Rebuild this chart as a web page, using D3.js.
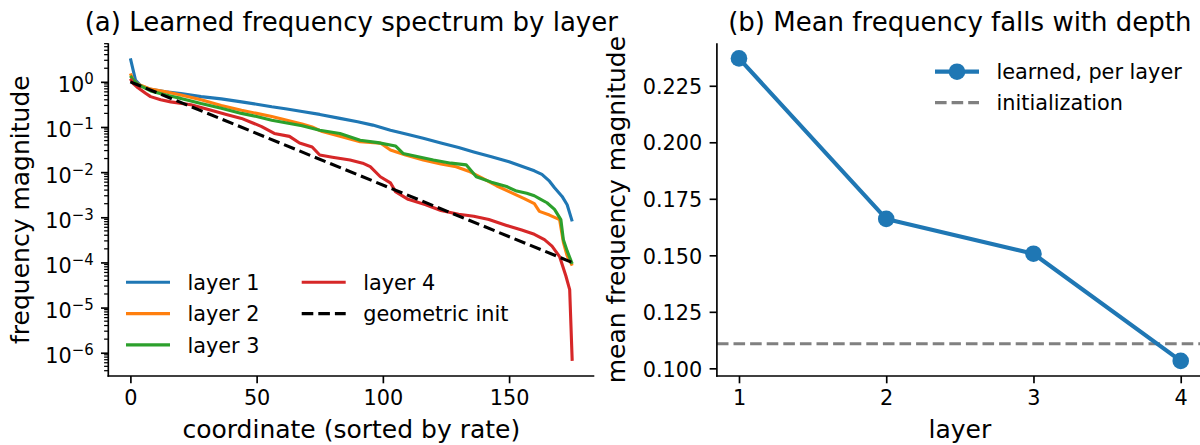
<!DOCTYPE html>
<html>
<head>
<meta charset="utf-8">
<script src="https://cdn.jsdelivr.net/npm/d3@7"></script>
<style>
  body { margin: 0; background: #fff; }
  svg { font-family: "DejaVu Sans", sans-serif; }
</style>
</head>
<body>
<div id="chart"></div>
<script>
// values
const layer1X = [0, 2, 4, 8, 14, 20, 28, 36, 44, 50, 56, 62, 68, 75, 83, 90, 96, 103, 110, 116, 123, 130, 136, 143, 150, 155, 160, 163, 166, 168, 171, 173, 175];
const layer1Y = [3.3, 1.10, 0.83, 0.68, 0.60, 0.55, 0.47, 0.42, 0.36, 0.32, 0.28, 0.25, 0.22, 0.19, 0.155, 0.13, 0.11, 0.085, 0.068, 0.056, 0.044, 0.035, 0.028, 0.022, 0.017, 0.0135, 0.0107, 0.0089, 0.0063, 0.0045, 0.0029, 0.0019, 0.00081];

const layer2X = [0, 1, 3, 8, 14, 20, 28, 36, 44, 50, 56, 62, 68, 72, 76, 83, 91, 99, 103, 109, 116, 123, 129, 134, 139, 145, 150, 156, 160, 162, 166, 170, 171.5, 173, 175];
const layer2Y = [1.53, 1.12, 0.89, 0.69, 0.60, 0.51, 0.40, 0.30, 0.234, 0.20, 0.17, 0.141, 0.117, 0.10, 0.079, 0.062, 0.047, 0.044, 0.031, 0.024, 0.0186, 0.0151, 0.0132, 0.0105, 0.0076, 0.0050, 0.0037, 0.0026, 0.0020, 0.00135, 0.00112, 0.00089, 0.00028, 0.00014, 8.5e-5];

const layer3X = [0, 1, 3, 8, 14, 20, 28, 36, 44, 50, 56, 62, 68, 75, 83, 91, 98, 105, 108, 114, 120, 127, 133, 137, 143, 149, 153, 157, 160, 162, 165, 168, 170.5, 171.5, 173, 175];
const layer3Y = [1.35, 1.12, 0.87, 0.63, 0.51, 0.43, 0.33, 0.26, 0.20, 0.17, 0.141, 0.123, 0.107, 0.085, 0.072, 0.051, 0.045, 0.038, 0.026, 0.022, 0.0186, 0.0158, 0.0145, 0.0079, 0.0060, 0.0048, 0.0038, 0.0034, 0.0030, 0.0026, 0.0021, 0.0015, 0.00089, 0.00032, 0.00018, 9.3e-5];

const layer4X = [0, 1, 3, 6, 8, 12, 16, 24, 32, 38, 44, 48, 52, 57, 63, 67, 72, 75, 80, 87, 92, 95, 99, 103, 105, 110, 117, 123, 130, 136, 142, 149, 155, 160, 164, 167, 170, 172.5, 174, 175];
const layer4Y = [1.17, 0.93, 0.74, 0.56, 0.47, 0.40, 0.36, 0.31, 0.234, 0.19, 0.155, 0.126, 0.102, 0.072, 0.062, 0.044, 0.036, 0.024, 0.0214, 0.0186, 0.0158, 0.0132, 0.0079, 0.0058, 0.0037, 0.0025, 0.0019, 0.00141, 0.00117, 0.00105, 0.00089, 0.00066, 0.00052, 0.00042, 0.00032, 0.00023, 0.000135, 5.0e-5, 2.5e-5, 6.6e-7];

const geoX = [0, 175];
const geoY = [1, 1e-4];

const layerNames = ["layer 1", "layer 2", "layer 3", "layer 4"];
const layerColors = ["#1f77b4", "#ff7f0e", "#2ca02c", "#d62728"];

const layerIdx = [1, 2, 3, 4];
const meanFreq = [0.2371, 0.1661, 0.1507, 0.1033];
const initFreq = 0.1109;

const xTicksA = [0, 50, 100, 150];
const yExpA = [0, -1, -2, -3, -4, -5, -6];
const xTicksB = [1, 2, 3, 4];
const yTicksB = [0.100, 0.125, 0.150, 0.175, 0.200, 0.225];

const W = 1200, H = 445;
const svg = d3.select("#chart").append("svg")
    .attr("width", W).attr("height", H);

const FS = 20.8;       // 10pt at 150 dpi
const FL = 25;         // 12pt at 150 dpi
const FT = 26;         // titles
const majorLen = 7.3, minorLen = 4.2, tickPad = 7.3;

function styleAxis(g) {
    g.select(".domain").remove();
    g.selectAll(".tick line").attr("stroke", "#000").attr("stroke-width", 1.67);
    g.selectAll(".tick text").attr("fill", "#000").attr("font-size", FS)
        .attr("font-family", "DejaVu Sans");
}

// ---------------- panel (a) ----------------
const series = [
    {x: layer1X, y: layer1Y},
    {x: layer2X, y: layer2Y},
    {x: layer3X, y: layer3Y},
    {x: layer4X, y: layer4Y}
];
const allY = [].concat(layer1Y, layer2Y, layer3Y, layer4Y);
const logMin = Math.log10(d3.min(allY)), logMax = Math.log10(d3.max(allY));
const logPad = (logMax - logMin) * 0.05;

const a = {left: 108.3, right: 594.3, top: 43.3, bottom: 376};
const xA = d3.scaleLinear().domain([-8.75, 183.75]).range([a.left, a.right]);
const yA = d3.scaleLog().domain([Math.pow(10, logMin - logPad), Math.pow(10, logMax + logPad)])
    .range([a.bottom, a.top]);

// minor ticks on the log axis
const minorA = [];
for (let k = -7; k <= 0; k++) {
    for (let m = 2; m <= 9; m++) {
        const v = m * Math.pow(10, k);
        if (v >= yA.domain()[0] && v <= yA.domain()[1]) minorA.push(v);
    }
}
svg.append("g").selectAll("line").data(minorA).enter().append("line")
    .attr("x1", a.left - minorLen).attr("x2", a.left)
    .attr("y1", d => yA(d)).attr("y2", d => yA(d))
    .attr("stroke", "#000").attr("stroke-width", 1.25);

const yAxisA = svg.append("g").attr("transform", "translate(" + a.left + ",0)")
    .call(d3.axisLeft(yA).tickValues(yExpA.map(e => Math.pow(10, e)))
        .tickSize(majorLen).tickPadding(tickPad).tickFormat(""))
    .call(styleAxis);
yAxisA.selectAll(".tick text")
    .attr("text-anchor", "end")
    .attr("dy", "0.48em")
    .each(function (d) {
        const e = Math.round(Math.log10(d));
        const t = d3.select(this);
        t.append("tspan").text("10");
        t.append("tspan").attr("font-size", FS * 0.72).attr("dy", -8)
            .text(e === 0 ? "0" : "\u2212" + Math.abs(e));
    });

const xAxisA = svg.append("g").attr("transform", "translate(0," + a.bottom + ")")
    .call(d3.axisBottom(xA).tickValues(xTicksA).tickSize(majorLen).tickPadding(tickPad))
    .call(styleAxis);

// curves
const lineA = d3.line().x(d => xA(d[0])).y(d => yA(d[1]));
series.forEach((s, i) => {
    svg.append("path")
        .datum(s.x.map((v, j) => [v, s.y[j]]))
        .attr("d", lineA)
        .attr("fill", "none")
        .attr("stroke", layerColors[i])
        .attr("stroke-width", 3.1)
        .attr("stroke-linejoin", "round");
});
svg.append("path")
    .datum(geoX.map((v, j) => [v, geoY[j]]))
    .attr("d", lineA)
    .attr("fill", "none")
    .attr("stroke", "#000")
    .attr("stroke-width", 3.1)
    .attr("stroke-dasharray", "11.6,5");

// spines
svg.append("line").attr("x1", a.left).attr("x2", a.left).attr("y1", a.top).attr("y2", a.bottom + 0.8)
    .attr("stroke", "#000").attr("stroke-width", 1.67);
svg.append("line").attr("x1", a.left - 0.8).attr("x2", a.right).attr("y1", a.bottom).attr("y2", a.bottom)
    .attr("stroke", "#000").attr("stroke-width", 1.67);

// legend (a)
const legA = [
    {label: layerNames[0], color: layerColors[0], dash: null, col: 0, row: 0},
    {label: layerNames[1], color: layerColors[1], dash: null, col: 0, row: 1},
    {label: layerNames[2], color: layerColors[2], dash: null, col: 0, row: 2},
    {label: layerNames[3], color: layerColors[3], dash: null, col: 1, row: 0},
    {label: "geometric init", color: "#000", dash: "11.6,5", col: 1, row: 1}
];
const legColX = [126, 301.7], legRowY = [282.3, 313.6, 344.9];
legA.forEach(d => {
    const x0 = legColX[d.col], y0 = legRowY[d.row];
    svg.append("line").attr("x1", x0).attr("x2", x0 + 44).attr("y1", y0).attr("y2", y0)
        .attr("stroke", d.color).attr("stroke-width", 3.1)
        .attr("stroke-dasharray", d.dash);
    svg.append("text").attr("x", x0 + 61.5).attr("y", y0 + 7.7)
        .attr("font-size", FS).text(d.label);
});

// titles & labels (a)
svg.append("text").attr("x", (a.left + a.right) / 2).attr("y", 31)
    .attr("text-anchor", "middle").attr("font-size", FT)
    .text("(a) Learned frequency spectrum by layer");
svg.append("text").attr("x", (a.left + a.right) / 2).attr("y", 438)
    .attr("text-anchor", "middle").attr("font-size", FL)
    .text("coordinate (sorted by rate)");
svg.append("text")
    .attr("transform", "translate(29," + (a.top + a.bottom) / 2 + ") rotate(-90)")
    .attr("text-anchor", "middle").attr("font-size", FL)
    .text("frequency magnitude");

// ---------------- panel (b) ----------------
const b = {left: 716.9, right: 1202.8, top: 43.3, bottom: 376};
const bMin = d3.min(meanFreq), bMax = d3.max(meanFreq), bPad = (bMax - bMin) * 0.05;
const xB = d3.scaleLinear().domain([0.85, 4.15]).range([b.left, b.right]);
const yB = d3.scaleLinear().domain([bMin - bPad, bMax + bPad]).range([b.bottom, b.top]);

svg.append("g").attr("transform", "translate(" + b.left + ",0)")
    .call(d3.axisLeft(yB).tickValues(yTicksB).tickSize(majorLen).tickPadding(tickPad)
        .tickFormat(d3.format(".3f")))
    .call(styleAxis)
    .selectAll(".tick text").attr("dy", "0.37em");

svg.append("g").attr("transform", "translate(0," + b.bottom + ")")
    .call(d3.axisBottom(xB).tickValues(xTicksB).tickSize(majorLen).tickPadding(tickPad)
        .tickFormat(d3.format("d")))
    .call(styleAxis);

// initialization reference line
svg.append("line")
    .attr("x1", b.left).attr("x2", b.right)
    .attr("y1", yB(initFreq)).attr("y2", yB(initFreq))
    .attr("stroke", "#808080").attr("stroke-width", 3.1)
    .attr("stroke-dasharray", "11.6,5");

const lineB = d3.line().x(d => xB(d[0])).y(d => yB(d[1]));
svg.append("path")
    .datum(layerIdx.map((v, j) => [v, meanFreq[j]]))
    .attr("d", lineB)
    .attr("fill", "none")
    .attr("stroke", "#1f77b4")
    .attr("stroke-width", 4.17)
    .attr("stroke-linejoin", "round");
svg.append("g").selectAll("circle")
    .data(layerIdx.map((v, j) => [v, meanFreq[j]]))
    .enter().append("circle")
    .attr("cx", d => xB(d[0])).attr("cy", d => yB(d[1]))
    .attr("r", 8.3).attr("fill", "#1f77b4");

// spines
svg.append("line").attr("x1", b.left).attr("x2", b.left).attr("y1", b.top).attr("y2", b.bottom + 0.8)
    .attr("stroke", "#000").attr("stroke-width", 1.67);
svg.append("line").attr("x1", b.left - 0.8).attr("x2", b.right).attr("y1", b.bottom).attr("y2", b.bottom)
    .attr("stroke", "#000").attr("stroke-width", 1.67);

// legend (b)
const lbX = 935, lbY = [71.7, 102.6];
svg.append("line").attr("x1", lbX).attr("x2", lbX + 44).attr("y1", lbY[0]).attr("y2", lbY[0])
    .attr("stroke", "#1f77b4").attr("stroke-width", 4.17);
svg.append("circle").attr("cx", lbX + 22).attr("cy", lbY[0]).attr("r", 8.3).attr("fill", "#1f77b4");
svg.append("text").attr("x", lbX + 61.5).attr("y", lbY[0] + 7.7).attr("font-size", FS)
    .text("learned, per layer");
svg.append("line").attr("x1", lbX).attr("x2", lbX + 44).attr("y1", lbY[1]).attr("y2", lbY[1])
    .attr("stroke", "#808080").attr("stroke-width", 3.1).attr("stroke-dasharray", "11.6,5");
svg.append("text").attr("x", lbX + 61.5).attr("y", lbY[1] + 7.7).attr("font-size", FS)
    .text("initialization");

// titles & labels (b)
svg.append("text").attr("x", (b.left + b.right) / 2).attr("y", 31)
    .attr("text-anchor", "middle").attr("font-size", FT)
    .text("(b) Mean frequency falls with depth");
svg.append("text").attr("x", (b.left + b.right) / 2).attr("y", 438)
    .attr("text-anchor", "middle").attr("font-size", FL)
    .text("layer");
svg.append("text")
    .attr("transform", "translate(625," + (b.top + b.bottom) / 2 + ") rotate(-90)")
    .attr("text-anchor", "middle").attr("font-size", FL)
    .text("mean frequency magnitude");
</script>
</body>
</html>
